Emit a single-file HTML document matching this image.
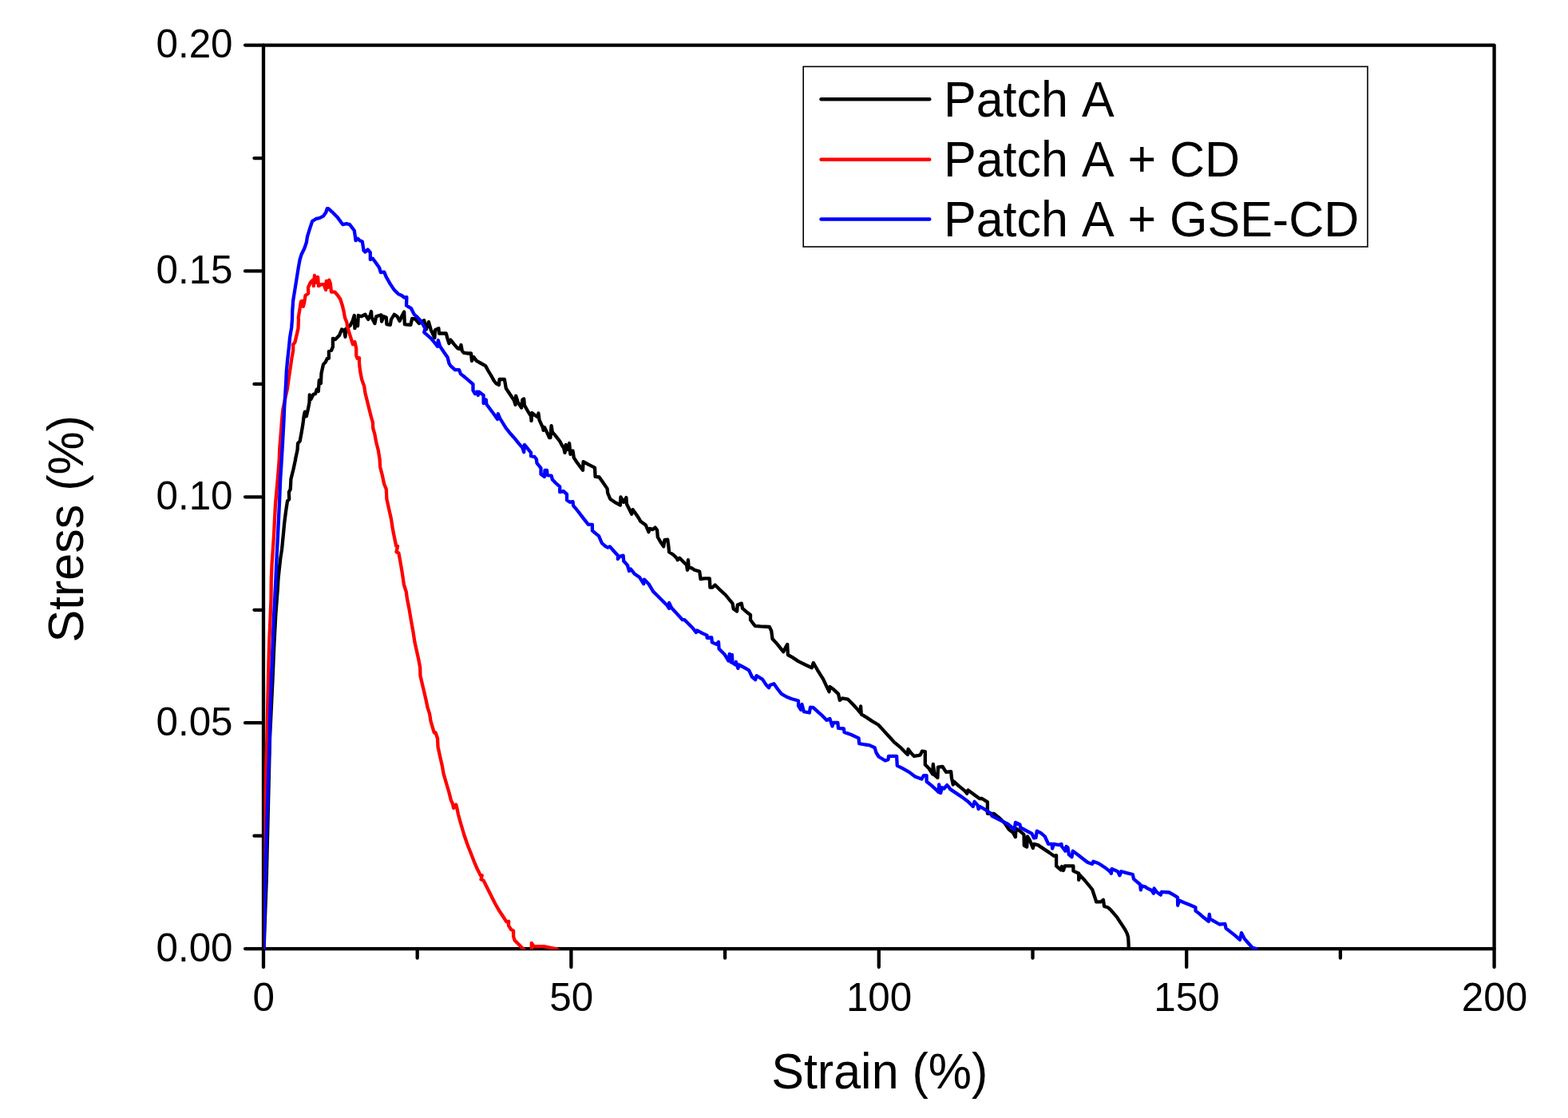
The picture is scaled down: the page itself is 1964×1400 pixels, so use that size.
<!DOCTYPE html>
<html lang="en">
<head>
<meta charset="utf-8">
<title>Stress–strain curves</title>
<style>
html,body{margin:0;padding:0;background:#fff;}
body{width:1964px;height:1400px;overflow:hidden;}
svg{display:block;}
text{font-family:"Liberation Sans",sans-serif;fill:#000;font-kerning:none;}
.tk{font-size:49.4px;}
.lb{font-size:61px;}
.cv{fill:none;stroke-width:4.3;stroke-linejoin:round;stroke-linecap:round;}
.lg{fill:none;stroke-width:4.4;stroke-linecap:round;}
.ax{fill:none;stroke:#000;stroke-width:4.3;stroke-linecap:round;stroke-linejoin:round;}
</style>
</head>
<body>
<svg width="1964" height="1400" viewBox="0 0 1964 1400">
<defs><clipPath id="plot"><rect x="330.5" y="56.6" width="1541.1" height="1132.25"/></clipPath></defs>
<rect x="0" y="0" width="1964" height="1400" fill="#ffffff"/>
<g id="axes">
<rect class="ax" x="330.0" y="56.6" width="1541.6" height="1131.5"/>
<path class="ax" d="M330.00 1188.10V1211.05M522.70 1188.10V1199.65M715.40 1188.10V1211.05M908.10 1188.10V1199.65M1100.80 1188.10V1211.05M1293.50 1188.10V1199.65M1486.20 1188.10V1211.05M1678.90 1188.10V1199.65M1871.60 1188.10V1211.05M330.00 1188.10H307.05M330.00 1046.66H318.45M330.00 905.22H307.05M330.00 763.79H318.45M330.00 622.35H307.05M330.00 480.91H318.45M330.00 339.47H307.05M330.00 198.04H318.45M330.00 56.60H307.05"/>
</g>
<g id="curves" clip-path="url(#plot)">
<path class="cv" stroke="#000000" d="M330.6 1188.0L333.8 1100.0L338.0 925.0L341.8 845.0L342.6 825.0L343.4 806.2L344.4 787.5L345.4 768.8L346.8 750.0
L347.8 737.5L348.5 725.0L349.8 712.5L351.2 700.0L353.1 687.5L354.8 670.0L356.2 655.0L358.1 640.0L360.0 627.5
L362.2 625.0L361.9 616.2L363.8 612.5L364.4 600.0L367.5 587.5L370.2 575.0L370.0 575.0L372.5 563.8L373.1 555.0
L375.6 552.5L377.5 542.5L379.4 531.2L380.6 521.2L381.9 515.6L383.8 521.2L385.6 513.8L387.5 503.8L387.8 494.4
L389.4 500.0L392.5 493.8L395.0 493.1L396.9 487.5L398.8 490.0L399.8 476.2L401.9 480.0L402.5 467.5L405.0 456.2
L407.5 453.8L410.0 448.8L411.9 448.8L411.9 440.0L415.0 438.8L416.9 434.4L416.9 423.8L420.0 425.0L425.0 420.0
L428.1 412.5L431.2 413.8L432.5 421.9L433.1 411.9L438.8 407.5L441.9 401.2L443.8 395.0L444.4 411.2L446.2 401.2
L448.1 408.1L448.8 395.0L452.5 396.2L457.5 393.8L461.2 400.0L463.8 394.4L465.0 390.0L465.6 397.5L469.4 405.0
L471.2 396.2L477.5 394.4L478.1 402.5L480.6 396.2L483.8 397.5L484.4 406.2L488.8 406.9L490.0 400.0L493.8 393.8
L497.5 396.2L500.6 401.9L503.8 395.0L506.2 390.6L506.9 406.2L514.4 406.9L516.2 398.8L520.0 399.4L525.0 405.0
L531.2 401.2L533.8 412.5L536.9 403.1L540.0 413.8L541.9 417.5L544.4 423.1L545.0 413.1L549.4 411.2L550.0 417.5
L555.0 417.5L558.8 417.5L560.6 424.4L562.5 430.0L564.4 425.6L568.8 431.2L573.1 436.2L575.6 436.9L577.5 431.9
L578.8 439.4L581.2 441.9L586.2 442.5L590.0 442.5L591.0 451.9L593.1 446.9L596.9 451.9L602.5 455.0L608.1 458.1
L611.2 463.8L615.0 470.0L618.8 476.9L621.9 480.6L625.0 481.9L625.6 475.0L631.9 475.0L633.8 486.2L638.8 493.8
L643.8 501.2L645.6 506.9L646.2 495.6L648.8 503.8L653.1 510.6L654.4 500.6L656.2 499.4L656.9 507.5L661.2 515.0
L665.0 521.2L665.6 526.9L666.2 516.9L670.0 520.0L673.8 522.5L674.4 517.5L675.6 526.2L680.0 535.6L680.6 538.8
L681.9 535.0L685.0 541.2L688.1 548.1L689.4 548.1L690.6 533.1L691.9 541.2L696.2 546.2L701.2 552.5L703.8 557.5
L706.2 561.2L707.5 566.9L708.8 556.9L711.2 563.1L713.1 555.0L714.4 568.8L717.5 564.4L718.8 573.1L722.5 578.8
L726.2 583.8L730.0 588.8L730.6 578.1L737.5 581.9L745.0 585.6L745.6 596.9L750.6 597.5L755.0 603.8L760.6 611.9
L761.2 617.5L764.4 625.0L770.0 628.8L776.9 632.5L777.5 622.5L781.2 628.8L784.4 623.1L785.0 631.2L788.8 638.8
L791.2 643.8L792.5 638.1L797.5 645.0L801.2 650.6L801.9 652.5L808.8 657.5L812.5 666.2L813.8 661.9L817.5 663.1
L820.6 660.6L823.1 663.8L823.8 672.5L827.5 678.8L831.2 684.4L832.5 676.2L836.2 675.6L837.5 685.0L838.1 691.2
L843.8 695.0L847.5 698.8L848.8 701.2L851.2 698.8L856.2 703.8L860.0 707.5L861.0 713.8L861.9 701.2L862.8 711.2
L866.2 711.2L870.0 713.8L876.2 715.6L877.5 725.0L882.5 724.4L888.8 724.4L889.4 735.6L892.5 735.6L895.6 732.5
L901.2 738.1L908.8 745.0L917.5 755.6L918.8 762.5L923.1 765.6L923.8 757.5L928.8 755.6L930.0 761.9L935.0 766.2
L940.0 770.0L940.0 776.2L945.6 783.8L952.5 784.4L963.8 785.0L966.2 790.0L967.5 800.0L973.8 806.9L981.2 816.2
L984.4 810.0L986.2 806.9L986.9 820.0L992.5 823.1L1000.0 828.1L1008.8 832.5L1016.9 836.2L1018.8 830.0
L1023.8 838.8L1031.2 850.6L1035.0 858.8L1038.5 866.2L1039.4 860.0L1043.8 863.1L1050.0 868.8L1051.9 876.9
L1055.0 874.4L1061.9 875.6L1068.8 882.5L1075.0 889.4L1077.5 892.5L1078.1 884.4L1078.8 894.4L1085.0 898.1
L1092.5 903.1L1100.0 907.5L1107.5 915.6L1113.8 922.5L1120.0 929.4L1127.5 935.6L1133.8 941.9L1136.9 945.0
L1137.5 938.1L1141.2 943.1L1145.0 946.9L1152.5 945.6L1155.0 940.6L1158.8 941.2L1158.8 957.5L1163.8 962.5
L1168.1 969.4L1168.8 956.9L1170.6 970.6L1174.4 973.8L1175.0 960.6L1180.6 960.0L1185.0 966.9L1191.2 966.2
L1191.9 973.8L1193.8 982.5L1195.0 978.8L1201.2 984.4L1208.8 990.6L1211.2 993.8L1212.5 989.4L1220.0 995.0
L1226.9 1000.0L1230.0 1000.0L1236.9 1004.4L1236.9 1018.8L1240.0 1018.8L1245.0 1018.8L1252.5 1025.0
L1258.8 1031.2L1263.8 1038.8L1268.8 1042.5L1271.9 1048.1L1272.5 1037.5L1277.5 1040.6L1282.5 1045.0
L1282.8 1058.8L1286.2 1060.6L1286.9 1047.5L1290.0 1052.5L1293.8 1061.9L1295.0 1056.9L1300.0 1058.1
L1307.5 1063.1L1315.0 1068.1L1320.0 1071.9L1323.1 1071.2L1323.1 1084.4L1328.8 1089.4L1330.0 1085.0
L1331.9 1090.0L1333.8 1084.4L1344.4 1084.4L1344.4 1090.6L1351.2 1093.8L1351.2 1101.9L1352.5 1095.6
L1358.8 1102.5L1365.0 1110.0L1368.1 1113.8L1370.6 1121.2L1373.1 1128.8L1373.1 1129.4L1378.8 1129.4
L1381.9 1126.9L1383.1 1135.0L1387.5 1136.2L1391.2 1139.4L1395.0 1143.8L1398.8 1148.1L1402.5 1153.8
L1406.2 1159.4L1409.4 1164.4L1411.9 1169.4L1413.1 1173.8L1413.5 1180.0L1413.8 1187.8"/>
<path class="cv" stroke="#ff0000" d="M330.2 1188.0L330.2 1100.0L330.6 1075.0L331.4 1037.5L332.2 1000.0L333.2 962.5L334.4 925.0L334.9 900.0
L335.4 875.0L336.0 850.0L336.6 825.0L337.4 800.0L338.5 775.0L339.5 750.0L339.8 725.0L340.6 706.2L341.9 687.5
L343.1 668.8L344.0 650.0L345.0 631.2L347.8 600.0L349.8 575.0L350.2 562.5L351.2 550.0L352.2 537.5L353.1 525.0
L354.4 512.5L356.0 505.0L357.5 497.5L359.8 487.5L361.9 472.5L363.8 460.0L365.6 447.5L367.2 438.8L367.2 431.2
L369.4 428.8L371.2 421.2L373.5 411.2L374.0 400.0L373.8 397.5L375.6 386.2L376.9 377.5L378.8 376.9L379.8 383.8
L381.2 378.8L382.5 370.0L386.2 367.5L386.0 360.0L388.8 353.8L392.5 350.0L392.8 358.1L394.0 345.0L395.6 353.8
L398.1 346.9L399.0 358.1L402.5 356.2L405.6 356.2L408.1 363.1L408.8 351.9L410.6 360.0L412.2 350.6L413.8 355.0
L415.0 365.6L419.4 365.6L423.1 370.0L426.2 374.4L428.8 382.5L430.6 390.0L431.9 397.5L434.4 403.8L435.0 408.8
L438.1 418.8L440.6 426.9L441.9 431.2L444.4 428.1L446.2 436.2L446.2 445.0L447.5 448.8L450.0 448.1L450.0 455.0
L451.2 465.0L453.1 475.0L456.2 483.8L457.5 492.5L460.0 502.5L462.5 512.5L465.0 522.5L466.9 528.8L467.2 536.2
L469.4 543.8L471.2 553.8L473.8 563.8L475.6 575.0L476.2 585.0L478.8 595.0L481.2 606.2L483.8 612.5L484.4 625.0
L486.9 636.2L490.0 650.0L491.9 662.5L494.4 675.0L496.2 683.8L498.1 683.8L496.5 691.2L499.4 692.5L501.9 706.2
L503.8 717.5L506.0 732.5L508.8 741.2L510.0 750.0L512.5 762.5L515.0 777.5L517.5 791.2L519.4 803.8L521.9 815.0
L524.4 826.2L526.2 836.2L526.5 846.2L528.8 856.2L531.2 866.2L533.8 877.5L535.6 886.2L538.1 893.8L539.4 902.5
L541.9 911.2L543.8 917.5L545.6 917.5L548.1 925.0L548.5 935.0L551.2 947.5L553.8 958.8L555.6 968.8L558.8 980.0
L562.5 992.5L565.0 1002.5L566.9 1006.2L568.1 1011.9L571.2 1007.5L572.5 1012.5L574.0 1020.0L577.5 1032.5
L581.2 1045.0L585.0 1056.2L589.4 1067.5L593.8 1078.8L598.1 1088.8L601.9 1096.2L603.8 1096.2L602.5 1101.2
L605.6 1102.5L610.0 1111.2L615.0 1121.2L620.0 1131.2L625.0 1140.0L630.0 1147.5L634.4 1154.4L637.2 1153.8
L636.9 1158.8L640.0 1163.8L643.1 1165.6L643.1 1172.5L644.6 1177.5L649.6 1182.6L655.0 1188.0L660.0 1192.0
L665.8 1193.0L665.8 1180.8L668.6 1185.1L681.0 1185.1L697.0 1188.3L700.5 1190.8"/>
<path class="cv" stroke="#0000ff" d="M330.4 1188.0L332.4 1100.0L333.1 1075.0L334.1 1037.5L335.1 1000.0L336.4 962.5L337.8 925.0L338.1 900.0
L339.0 875.0L339.9 850.0L340.9 825.0L341.9 800.0L342.9 775.0L344.2 750.0L345.4 725.0L346.5 700.0L347.8 675.0
L349.0 650.0L350.2 625.0L351.2 600.0L352.8 575.0L354.0 555.0L354.8 540.0L355.6 525.0L356.2 510.0L357.2 495.0
L358.1 480.0L358.8 465.0L360.2 450.0L361.9 435.0L363.1 422.5L365.2 410.0L366.0 400.0L366.2 390.0L367.2 376.2
L369.0 365.0L370.6 355.0L372.2 345.0L373.8 335.0L375.6 325.0L377.5 318.8L381.2 311.2L383.8 303.8L385.0 296.2
L388.1 286.2L391.2 276.9L392.5 276.2L396.2 273.8L400.0 273.1L405.0 270.6L408.1 266.2L409.8 261.2L411.2 261.2
L416.2 265.6L422.5 271.9L429.4 281.2L433.8 280.2L438.1 281.2L443.8 288.8L445.6 301.2L448.1 298.8L450.6 301.2
L453.8 302.5L455.6 313.8L457.5 315.6L460.6 312.5L463.8 316.2L463.8 325.0L466.9 323.8L470.0 328.1L475.0 335.0
L476.9 341.2L481.2 340.6L483.8 346.9L488.8 355.6L493.8 363.1L498.8 368.1L503.1 370.0L506.2 372.5L509.4 372.2
L509.0 382.5L515.0 386.2L518.8 393.8L522.5 396.9L527.5 402.5L532.5 411.2L531.2 416.2L540.0 423.8L545.0 430.0
L548.1 433.8L548.8 426.2L551.2 433.8L556.2 441.2L560.6 447.5L562.5 455.0L564.4 458.1L570.0 463.1L575.0 463.1
L576.9 468.1L582.5 472.5L587.5 476.9L592.5 481.2L592.5 488.8L595.0 493.1L597.5 490.6L598.8 495.0L600.0 490.6
L605.6 495.0L605.6 505.0L608.8 500.6L609.4 506.2L615.0 513.8L620.0 520.6L623.1 525.0L623.8 518.1L626.2 523.8
L630.0 530.0L633.8 536.2L640.0 543.8L645.0 549.4L650.0 555.6L654.4 560.6L656.2 566.2L656.9 556.9L660.6 561.2
L665.0 566.9L665.0 571.2L669.4 571.9L671.9 575.0L672.5 580.0L677.5 586.2L677.5 593.8L681.9 596.9L682.5 588.8
L685.0 588.8L685.6 595.0L690.6 595.6L691.9 600.6L696.2 605.0L701.2 609.4L701.2 616.2L705.6 615.0L710.0 618.8
L710.0 626.2L713.8 628.8L717.5 628.1L718.1 633.1L723.8 640.0L730.0 648.1L736.9 656.9L741.9 656.9L741.9 664.4
L746.2 668.1L750.0 671.2L753.8 680.0L758.1 683.8L761.2 685.6L763.8 684.4L768.8 690.0L774.4 696.2L773.8 700.0
L776.2 696.9L780.6 695.6L781.2 702.5L786.2 708.1L786.2 708.8L788.1 715.0L790.0 712.5L795.0 718.8L801.2 723.1
L806.2 731.2L806.9 725.6L812.5 731.2L818.1 740.6L823.8 746.2L830.0 752.5L835.6 758.1L838.1 761.9L838.1 755.0
L841.2 761.2L847.5 768.1L855.0 776.2L857.5 776.2L862.5 781.2L867.5 786.2L871.9 791.9L873.1 789.4L880.0 793.1
L885.6 795.6L885.6 798.8L891.2 798.1L891.9 804.4L897.5 806.9L900.0 803.8L900.6 812.5L907.5 819.4L912.5 827.5
L913.8 818.8L915.6 829.4L916.9 820.0L917.5 830.0L921.2 832.5L921.9 828.8L924.4 836.9L925.6 832.5L932.5 836.2
L938.1 839.4L941.9 847.5L946.2 851.2L947.5 846.2L955.0 850.6L960.0 858.1L963.1 861.2L964.4 858.1L969.4 856.2
L973.8 862.5L978.8 868.8L985.0 872.5L991.2 875.0L1000.0 877.5L1000.0 883.8L1003.1 888.8L1004.4 881.9
L1006.9 891.2L1013.8 892.5L1015.0 885.6L1018.8 886.2L1025.0 891.9L1030.0 896.2L1035.6 901.9L1039.4 900.0
L1042.5 909.4L1043.8 905.0L1049.4 905.0L1050.0 911.9L1056.9 912.5L1057.5 916.9L1066.2 920.0L1075.6 924.4
L1076.2 931.2L1083.8 932.5L1088.8 933.1L1095.6 936.2L1097.5 942.5L1100.6 947.5L1108.8 952.5L1112.5 951.2
L1113.1 946.9L1123.1 946.9L1123.8 958.8L1130.0 961.9L1138.8 966.9L1146.2 972.5L1154.4 975.6L1156.9 971.2
L1160.6 971.2L1160.6 978.8L1166.2 983.1L1172.5 988.8L1175.6 991.9L1176.2 982.5L1178.1 993.1L1180.0 986.2
L1182.5 987.5L1186.2 983.1L1188.8 986.2L1190.0 988.1L1197.5 993.1L1205.0 998.1L1212.5 1003.8L1218.8 1010.0
L1220.6 1003.8L1224.4 1008.1L1225.6 1013.1L1227.5 1010.0L1235.0 1014.4L1241.2 1018.8L1242.5 1021.9
L1252.5 1026.9L1262.5 1031.9L1267.5 1036.2L1270.6 1038.8L1271.9 1030.0L1277.5 1032.5L1278.1 1036.2
L1285.0 1040.0L1292.5 1043.8L1295.0 1049.4L1297.5 1048.8L1298.8 1040.6L1303.8 1043.1L1308.8 1047.5
L1313.1 1056.9L1317.5 1056.9L1318.1 1062.5L1320.0 1056.9L1326.2 1058.1L1329.4 1056.9L1330.0 1060.0
L1334.4 1065.6L1335.6 1060.0L1337.5 1061.2L1338.8 1070.0L1342.5 1073.1L1343.8 1065.6L1351.2 1071.2
L1357.5 1076.2L1362.5 1080.0L1368.1 1081.9L1369.4 1078.8L1376.2 1081.2L1383.8 1086.2L1390.0 1091.2
L1391.9 1093.8L1392.5 1088.1L1400.0 1091.2L1402.5 1096.2L1404.4 1091.2L1411.2 1093.1L1418.8 1095.0
L1420.0 1100.6L1425.0 1105.0L1428.1 1107.5L1428.8 1114.4L1430.0 1109.4L1435.0 1110.6L1436.2 1111.9
L1442.5 1115.0L1445.0 1118.8L1445.6 1112.5L1448.8 1116.9L1453.8 1120.6L1455.0 1116.9L1464.4 1117.5
L1470.0 1120.6L1475.0 1123.8L1475.2 1133.8L1476.9 1127.5L1482.5 1130.0L1490.0 1133.1L1497.5 1136.2
L1497.5 1140.6L1502.5 1144.4L1507.5 1148.8L1513.8 1153.8L1514.8 1145.0L1515.6 1150.6L1521.2 1153.8
L1527.5 1157.5L1534.4 1156.9L1535.6 1162.5L1541.2 1166.9L1547.5 1171.9L1553.1 1176.9L1555.0 1168.1
L1558.8 1175.6L1563.8 1181.2L1568.8 1186.9L1573.8 1188.0"/>
</g>
<g id="xlabels">
<text class="tk" text-anchor="middle" transform="translate(330.30 1265.90) scale(1 1.025)">0</text>
<text class="tk" text-anchor="middle" transform="translate(715.70 1265.90) scale(1 1.025)">50</text>
<text class="tk" text-anchor="middle" transform="translate(1101.10 1265.90) scale(1 1.025)">100</text>
<text class="tk" text-anchor="middle" transform="translate(1486.50 1265.90) scale(1 1.025)">150</text>
<text class="tk" text-anchor="middle" transform="translate(1871.90 1265.90) scale(1 1.025)">200</text>
</g>
<g id="ylabels">
<text class="tk" text-anchor="end" transform="translate(291.60 1203.90) scale(1 1.025)">0.00</text>
<text class="tk" text-anchor="end" transform="translate(291.60 921.02) scale(1 1.025)">0.05</text>
<text class="tk" text-anchor="end" transform="translate(291.60 638.15) scale(1 1.025)">0.10</text>
<text class="tk" text-anchor="end" transform="translate(291.60 355.28) scale(1 1.025)">0.15</text>
<text class="tk" text-anchor="end" transform="translate(291.60 72.40) scale(1 1.025)">0.20</text>
</g>
<text class="lb" text-anchor="middle" transform="translate(1101.80 1363.30) scale(1 1.04)">Strain (%)</text>
<text class="lb" text-anchor="middle" transform="translate(103.60 662.30) rotate(-90) scale(1 1.04)">Stress (%)</text>
<g id="legend">
<rect x="1006.2" y="83.4" width="706.8" height="225.6" fill="#ffffff" stroke="#000" stroke-width="1.6"/>
<path class="lg" stroke="#000000" d="M1028.5 124.3H1164.3"/>
<path class="lg" stroke="#ff0000" d="M1028.5 199.7H1164.3"/>
<path class="lg" stroke="#0000ff" d="M1028.5 274.5H1164.3"/>
<text class="lb" transform="translate(1182.00 146.00) scale(1 1.04)">Patch A</text>
<text class="lb" transform="translate(1182.00 220.90) scale(1 1.04)">Patch A + CD</text>
<text class="lb" transform="translate(1182.00 295.80) scale(1 1.04)">Patch A + GSE-CD</text>
</g>
</svg>
</body>
</html>
